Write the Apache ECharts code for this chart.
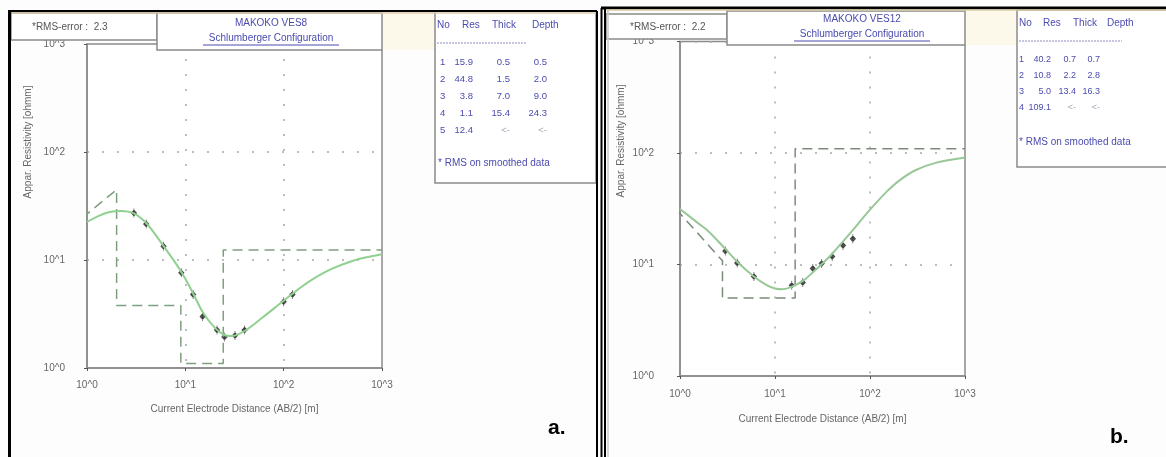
<!DOCTYPE html>
<html>
<head>
<meta charset="utf-8">
<script src="https://cdn.jsdelivr.net/npm/echarts@6/dist/echarts.min.js"></script>
<style>
html, body {margin: 0; padding: 0; background: #fff;}
#container {width: 1166px; height: 457px;}
</style>
</head>
<body>
<div id="container"></div>
<script>
/* VES8 - panel a */
const ves8_obs_ab2 = [3.0, 4.0, 6.0, 9.1, 12, 15, 21, 25, 32, 40, 100, 123];
const ves8_obs_rho = [27.2, 21.5, 13.4, 7.6, 4.8, 3.0, 2.25, 1.94, 2.0, 2.25, 4.1, 4.8];
const ves8_calc_ab2 = [1, 1.3, 1.7, 2.2, 3, 4, 5, 6, 8, 10, 12, 15, 20, 25, 30, 40, 60, 100, 150, 200, 300, 500, 700, 1000];
const ves8_calc_rho = [22.5, 25.5, 27.8, 28.5, 27.0, 22.0, 17.0, 13.5, 9.3, 6.7, 4.9, 3.3, 2.35, 2.02, 1.98, 2.2, 2.9, 4.2, 5.6, 6.7, 8.2, 9.8, 10.6, 11.3];
const ves8_res = [15.9, 44.8, 3.8, 1.1, 12.4];
const ves8_thick = [0.5, 1.5, 7.0, 15.4];
const ves8_depth = [0.5, 2.0, 9.0, 24.3];

/* VES12 - panel b */
const ves12_obs_ab2 = [3.0, 4.0, 6.0, 15, 19.6, 25, 31, 40, 52, 66];
const ves12_obs_rho = [13.2, 10.3, 7.8, 6.5, 6.9, 9.2, 10.2, 11.8, 14.8, 17];
const ves12_calc_ab2 = [1, 1.5, 2, 3, 4, 6, 8, 10, 12, 15, 20, 25, 30, 40, 60, 100, 150, 200, 300, 500, 1000];
const ves12_calc_rho = [31.5, 24, 19.8, 13.8, 10.6, 7.8, 6.6, 6.1, 6.0, 6.3, 7.2, 8.5, 9.8, 12.5, 18.5, 31, 45, 56, 70, 82, 91];
const ves12_res = [40.2, 10.8, 5.0, 109.1];
const ves12_thick = [0.7, 2.2, 13.4];
const ves12_depth = [0.7, 2.8, 16.3];

const decade_ticks = ['10^0', '10^1', '10^2', '10^3'];
const table_head = ['No', 'Res', 'Thick', 'Depth'];

const FONT = 'Liberation Sans';
const BLUE = '#4b4bb0';
const GREY = '#666';

// zip two arrays to [x, y] pairs
function pairs(xs, ys) {
    return xs.map((x, i) => [x, ys[i]]);
}

// model drawn like the program does: (d1,r1)->(d2,r2) then steps
function model_line(res, depth) {
    const pts = [[depth[0], res[0]], [depth[1], res[1]]];
    for (let i = 2; i < res.length; i++) {
        pts.push([depth[i - 1], res[i]]);
        if (i < depth.length) pts.push([depth[i], res[i]]);
    }
    pts.push([1000, res[res.length - 1]]);
    return pts;
}

function txt(x, y, s, opt) {
    opt = opt || {};
    return {
        type: 'text', x: x, y: y, z: 110, rotation: opt.rot || 0,
        style: {
            text: s,
            fill: opt.color || GREY,
            font: (opt.weight || 'normal') + ' ' + (opt.size || 10) + 'px ' + FONT,
            textAlign: opt.align || 'left',
            textVerticalAlign: 'middle'
        }
    };
}

function box(x, y, w, h, opt) {
    opt = opt || {};
    return {
        type: 'rect', z: opt.z || 100,
        shape: {x: x, y: y, width: w, height: h},
        style: {fill: opt.fill || '#fff', stroke: opt.stroke || '#8a8a8a', lineWidth: opt.lw === undefined ? 1.5 : opt.lw}
    };
}

function line(x1, y1, x2, y2, color, w, dash) {
    return {
        type: 'line', z: 105,
        shape: {x1: x1, y1: y1, x2: x2, y2: y2},
        style: {stroke: color, lineWidth: w, lineDash: dash || null}
    };
}

// legend table: head = x of headers, val = right edge of value columns
function table(head, val, y0, rowH, dashEnd, fs, res, thick, depth) {
    const out = table_head.map((h, i) => txt(head[i], y0, h, {color: BLUE}));
    out.push(line(head[0], y0 + 18, dashEnd, y0 + 18, '#8c8cc0', 1, [2, 1]));
    res.forEach((r, i) => {
        const y = y0 + 37 + i * rowH;
        const last = i >= thick.length;
        out.push(txt(val[0], y, String(i + 1), {color: BLUE, size: fs}));
        out.push(txt(val[1], y, r.toFixed(1), {color: BLUE, size: fs, align: 'right'}));
        out.push(txt(val[2], y, last ? '<-' : thick[i].toFixed(1), {color: last ? '#aab' : BLUE, size: fs, align: 'right'}));
        out.push(txt(val[3], y, last ? '<-' : depth[i].toFixed(1), {color: last ? '#aab' : BLUE, size: fs, align: 'right'}));
    });
    return out;
}

function log_axis(idx, pos, margin, nameGap, name) {
    return {
        gridIndex: idx, type: 'log', logBase: 10, min: 1, max: 1000, position: pos,
        name: name || '', nameLocation: 'middle', nameGap: nameGap || 0,
        nameTextStyle: {color: GREY, fontSize: 10, fontFamily: FONT},
        axisLine: {show: true, lineStyle: {color: '#8a8a8a', width: 1.5}},
        axisTick: {show: true, length: 3, lineStyle: {color: '#555'}},
        axisLabel: {
            color: GREY, fontSize: 10, fontFamily: FONT, margin: margin,
            formatter: v => decade_ticks[Math.round(Math.log10(v))]
        },
        splitLine: {show: true, lineStyle: {color: '#a8a8a8', width: 1.5, type: [2, 13]}}
    };
}

function ves_chart() {
    const dom = document.getElementById('container');
    const myChart = echarts.init(dom, null, {renderer: 'canvas'});

    const obs_symbol = 'path://M3,0L3,10M0,5L3,2L6,5L3,8Z';

    const g = [
        // outer panel frames
        line(9.5, 10, 9.5, 457, '#000', 3),
        line(8, 11, 597, 11, '#000', 2),
        line(597, 11, 597, 457, '#000', 2),
        line(601.5, 8, 601.5, 457, '#000', 2),
        line(605, 8, 605, 457, '#000', 2),
        line(601, 8, 1166, 8, '#000', 3),
        line(608, 10, 608, 457, '#c8c8c8', 1.5),
        // cream gaps between the header boxes
        box(382, 13, 53, 37, {fill: '#fcf8ea', stroke: '#fcf8ea', lw: 0, z: 90}),
        box(965, 10, 52, 35, {fill: '#fcf8ea', stroke: '#fcf8ea', lw: 0, z: 90}),

        // panel a header boxes
        box(11, 13, 146, 27),
        txt(32, 27, '*RMS-error :  2.3', {color: '#555'}),
        box(157, 13, 225, 37),
        txt(271, 23, 'MAKOKO VES8', {color: BLUE, align: 'center'}),
        txt(271, 38, 'Schlumberger Configuration', {color: BLUE, align: 'center'}),
        line(203, 45, 339, 45, BLUE, 1),
        box(435, 11, 161, 172),
        txt(438, 163, '* RMS on smoothed data', {color: BLUE}),
        txt(548, 428, 'a.', {color: '#000', size: 21, weight: 'bold'}),

        // panel b header boxes
        box(606, 14, 121, 25),
        txt(630, 27, '*RMS-error :  2.2', {color: '#555'}),
        box(727, 11, 238, 34),
        txt(862, 19, 'MAKOKO VES12', {color: BLUE, align: 'center'}),
        txt(862, 34, 'Schlumberger Configuration', {color: BLUE, align: 'center'}),
        line(794, 41, 930, 41, BLUE, 1),
        box(1017, 10, 152, 157),
        txt(1019, 142, '* RMS on smoothed data', {color: BLUE}),
        txt(1110, 437, 'b.', {color: '#000', size: 21, weight: 'bold'}),

        // tan edge along the header row
        line(12, 13, 596, 13, '#d9cca8', 1.5),
        line(606, 10, 1166, 10, '#d9cca8', 1.5),

        // y axis names
        txt(28, 142, 'Appar. Resistivity [ohmm]', {rot: Math.PI / 2, align: 'center'}),
        txt(621, 141, 'Appar. Resistivity [ohmm]', {rot: Math.PI / 2, align: 'center'})
    ].concat(
        table([437, 462, 492, 532], [440, 473, 510, 547], 25, 17, 527, 9.5, ves8_res, ves8_thick, ves8_depth),
        table([1019, 1043, 1073, 1107], [1019, 1051, 1076, 1100], 23, 16, 1122, 9, ves12_res, ves12_thick, ves12_depth)
    );

    const option = {
        animation: false,
        backgroundColor: '#fdfdfd',
        grid: [
            {left: 87, top: 44, width: 295, height: 324, show: true, borderColor: '#8a8a8a', borderWidth: 1.5, backgroundColor: '#fff'},
            {left: 680, top: 41.5, width: 285, height: 334.5, show: true, borderColor: '#8a8a8a', borderWidth: 1.5, backgroundColor: '#fff'}
        ],
        xAxis: [
            log_axis(0, 'bottom', 12, 36, 'Current Electrode Distance (AB/2) [m]'),
            log_axis(1, 'bottom', 13, 38, 'Current Electrode Distance (AB/2) [m]')
        ],
        yAxis: [
            log_axis(0, 'left', 22),
            log_axis(1, 'left', 26)
        ],
        series: [
            {
                type: 'line', xAxisIndex: 0, yAxisIndex: 0, data: model_line(ves8_res, ves8_depth),
                symbol: 'none', lineStyle: {color: '#7f9f7f', width: 1.5, type: [10, 6]}
            },
            {
                type: 'line', xAxisIndex: 0, yAxisIndex: 0, data: pairs(ves8_calc_ab2, ves8_calc_rho),
                symbol: 'none', smooth: 0.3, lineStyle: {color: '#90d090', width: 2}
            },
            {
                type: 'scatter', xAxisIndex: 0, yAxisIndex: 0, data: pairs(ves8_obs_ab2, ves8_obs_rho),
                symbol: obs_symbol, symbolSize: [5, 9],
                itemStyle: {color: '#333', borderColor: '#333', borderWidth: 1}
            },
            {
                type: 'line', xAxisIndex: 1, yAxisIndex: 1, data: model_line(ves12_res, ves12_depth),
                symbol: 'none', lineStyle: {color: '#7c8a7c', width: 1.5, type: [10, 6]}
            },
            {
                type: 'line', xAxisIndex: 1, yAxisIndex: 1, data: pairs(ves12_calc_ab2, ves12_calc_rho),
                symbol: 'none', smooth: 0.3, lineStyle: {color: '#98c898', width: 2}
            },
            {
                type: 'scatter', xAxisIndex: 1, yAxisIndex: 1, data: pairs(ves12_obs_ab2, ves12_obs_rho),
                symbol: obs_symbol, symbolSize: [5, 9],
                itemStyle: {color: '#333', borderColor: '#333', borderWidth: 1}
            }
        ],
        graphic: {elements: g}
    };

    if (option && typeof option === "object") {
        myChart.setOption(option, true);
    }
}

ves_chart();
</script>
</body>
</html>
